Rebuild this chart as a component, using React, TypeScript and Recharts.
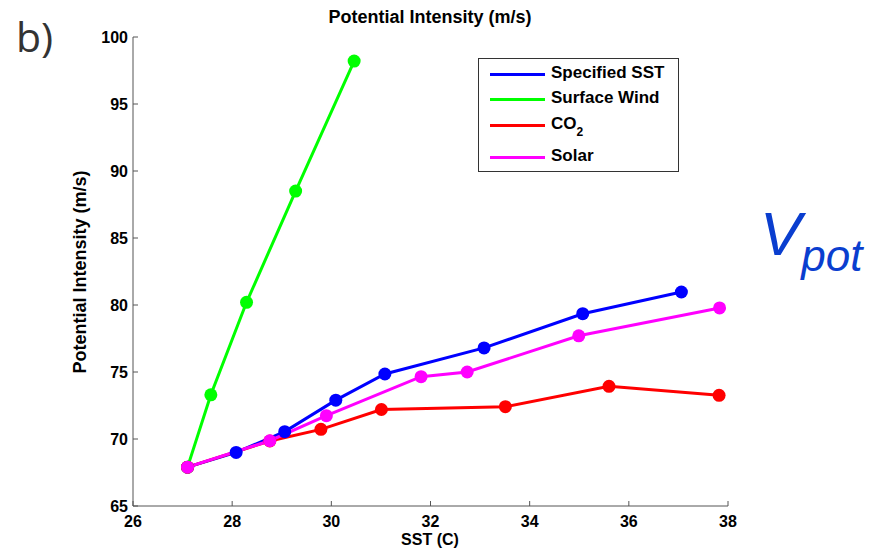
import {
  LineChart,
  Line,
  XAxis,
  YAxis,
} from "recharts";

interface Pt {
  sst: number;
  pi: number;
}

// values
const sstSpecified = [27.1, 28.08, 29.06, 30.09, 31.08, 33.08, 35.07, 37.06];
const piSpecified = [67.9, 69.0, 70.55, 72.9, 74.85, 76.8, 79.35, 80.97];

const sstWind = [27.1, 27.57, 28.29, 29.28, 30.46];
const piWind = [67.9, 73.3, 80.2, 88.5, 98.2];

const sstCO2 = [27.1, 28.76, 29.79, 31.01, 33.51, 35.6, 37.82];
const piCO2 = [67.9, 69.85, 70.72, 72.2, 72.41, 73.93, 73.26];

const sstSolar = [27.1, 28.76, 29.9, 31.81, 32.74, 34.99, 37.83];
const piSolar = [67.9, 69.87, 71.74, 74.65, 75.0, 77.7, 79.78];

const xTicks = [26, 28, 30, 32, 34, 36, 38];
const yTicks = [65, 70, 75, 80, 85, 90, 95, 100];

const zip = (xs: number[], ys: number[]): Pt[] =>
  xs.map((x, i) => ({ sst: x, pi: ys[i] }));

const series = [
  { name: "Specified SST", color: "#0000ff", data: zip(sstSpecified, piSpecified) },
  { name: "Surface Wind", color: "#00ff00", data: zip(sstWind, piWind) },
  { name: "CO2", color: "#ff0000", data: zip(sstCO2, piCO2) },
  { name: "Solar", color: "#ff00ff", data: zip(sstSolar, piSolar) },
];

const FONT = "'Liberation Sans', Arial, sans-serif";

const LegendBox = () => (
  <div
    style={{
      position: "absolute",
      left: 478,
      top: 58,
      width: 199,
      height: 112,
      border: "1px solid #333",
      background: "#fff",
      fontFamily: FONT,
      fontWeight: "bold",
      fontSize: 17,
      color: "#000",
    }}
  >
    {series.map((s, i) => {
      const top = [15, 40, 66, 98][i];
      return (
        <div key={s.name}>
          <div
            style={{
              position: "absolute",
              left: 11,
              top: top - 1.5,
              width: 55,
              height: 3,
              background: s.color,
            }}
          />
          <div
            style={{
              position: "absolute",
              left: 72,
              top: top - 11,
              lineHeight: "20px",
              whiteSpace: "nowrap",
            }}
          >
            {s.name === "CO2" ? (
              <span>
                CO<sub style={{ fontSize: 12, verticalAlign: -7 }}>2</sub>
              </span>
            ) : (
              s.name
            )}
          </div>
        </div>
      );
    })}
  </div>
);

const App = () => {
  return (
    <div
      style={{
        position: "absolute",
        left: 0,
        top: 0,
        width: 877,
        height: 558,
        background: "#fff",
        fontFamily: FONT,
      }}
    >
      <LineChart
        width={877}
        height={558}
        margin={{ top: 37, right: 149, bottom: 0, left: 0 }}
      >
        <XAxis
          type="number"
          dataKey="sst"
          domain={[26, 38]}
          ticks={xTicks}
          allowDataOverflow
          height={52}
          stroke="#555"
          tickSize={-5}
          tickMargin={15}
          tick={{ fill: "#000", fontSize: 16, fontWeight: "bold", fontFamily: FONT }}
        />
        <YAxis
          type="number"
          dataKey="pi"
          domain={[65, 100]}
          ticks={yTicks}
          allowDataOverflow
          width={133}
          stroke="#555"
          tickSize={-5}
          tickMargin={10}
          tick={{ fill: "#000", fontSize: 16, fontWeight: "bold", fontFamily: FONT }}
        />
        {series.map((s) => (
          <Line
            key={s.name}
            name={s.name}
            data={s.data}
            dataKey="pi"
            type="linear"
            stroke={s.color}
            strokeWidth={3}
            dot={{ r: 6.5, fill: s.color, stroke: s.color, strokeWidth: 0 }}
            activeDot={false}
            isAnimationActive={false}
          />
        ))}
      </LineChart>
      <LegendBox />
      <svg
        width={877}
        height={558}
        style={{ position: "absolute", left: 0, top: 0, pointerEvents: "none" }}
      >
        <text
          x={430}
          y={23}
          textAnchor="middle"
          fontFamily={FONT}
          fontWeight="bold"
          fontSize={18}
        >
          Potential Intensity (m/s)
        </text>
        <text
          x={430}
          y={545}
          textAnchor="middle"
          fontFamily={FONT}
          fontWeight="bold"
          fontSize={16}
        >
          SST (C)
        </text>
        <text
          x={86}
          y={272}
          textAnchor="middle"
          transform="rotate(-90 86 272)"
          fontFamily={FONT}
          fontWeight="bold"
          fontSize={18}
        >
          Potential Intensity (m/s)
        </text>
        <text x={16} y={52} fontFamily="'Open Sans', sans-serif" fontSize={41} fill="#333">
          b)
        </text>
        <text x={760} y={255} fontFamily={FONT} fontStyle="italic" fontSize={62} fill="#0a3ecf">
          V
          <tspan fontSize={44} dy={16}>
            pot
          </tspan>
        </text>
      </svg>
    </div>
  );
};

export default App;
